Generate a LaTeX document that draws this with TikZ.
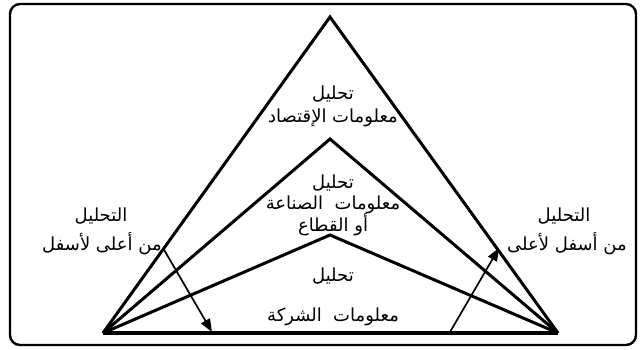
\documentclass[tikz,border=0pt]{standalone}
\usepackage{fontspec}
\newfontfamily\arabicfont[Script=Arabic]{DejaVu Sans}
\TeXXeTstate=1
\usetikzlibrary{arrows.meta}
\begin{document}
\begin{tikzpicture}[x=1pt,y=-1pt,
  tri/.style={line width=3pt,line join=miter},
  arr/.style={line width=1.7pt,-{Triangle[length=13pt,width=10pt]}},
  lbl/.style={font=\arabicfont\fontsize{18}{20}\selectfont,align=center,inner sep=0pt}]
\useasboundingbox (0,0) rectangle (644,349);
\draw[line width=2.4pt,rounded corners=10pt] (10,4) rectangle (636,345);
\coordinate (L) at (103,333);
\coordinate (R) at (558,333);
\coordinate (A1) at (330,17);
\coordinate (A2) at (330,139);
\coordinate (A3) at (330,235);
\draw[tri] (L) -- (A1) -- (R);
\draw[tri] (L) -- (A2) -- (R);
\draw[tri] (L) -- (A3) -- (R);
\draw[line width=3.6pt] (L) -- (R);
\coordinate (d1) at (163,248);
\coordinate (d2) at (212,332);
\coordinate (u1) at (450,332);
\coordinate (u2) at (499,248);
\draw[arr] (d1) -- (d2);
\draw[arr] (u1) -- (u2);
\node[lbl] (t1) at (333,94) {\beginR تحليل\endR};
\node[lbl] (t2) at (333,118) {\beginR معلومات الإقتصاد\endR};
\node[lbl] (t3) at (333,183) {\beginR تحليل\endR};
\node[lbl] (t4) at (333,205) {\beginR معلومات\ \ الصناعة\endR};
\node[lbl] (t5) at (333,225) {\beginR أو القطاع\endR};
\node[lbl] (t6) at (333,276) {\beginR تحليل\endR};
\node[lbl] (t7) at (333,317) {\beginR معلومات\ \ الشركة\endR};
\node[lbl] (l1) at (101,216) {\beginR التحليل\endR};
\node[lbl] (l2) at (102,244) {\beginR من أعلى لأسفل\endR};
\node[lbl] (r1) at (564,216) {\beginR التحليل\endR};
\node[lbl] (r2) at (567,244) {\beginR من أسفل لأعلى\endR};
\end{tikzpicture}
\end{document}
